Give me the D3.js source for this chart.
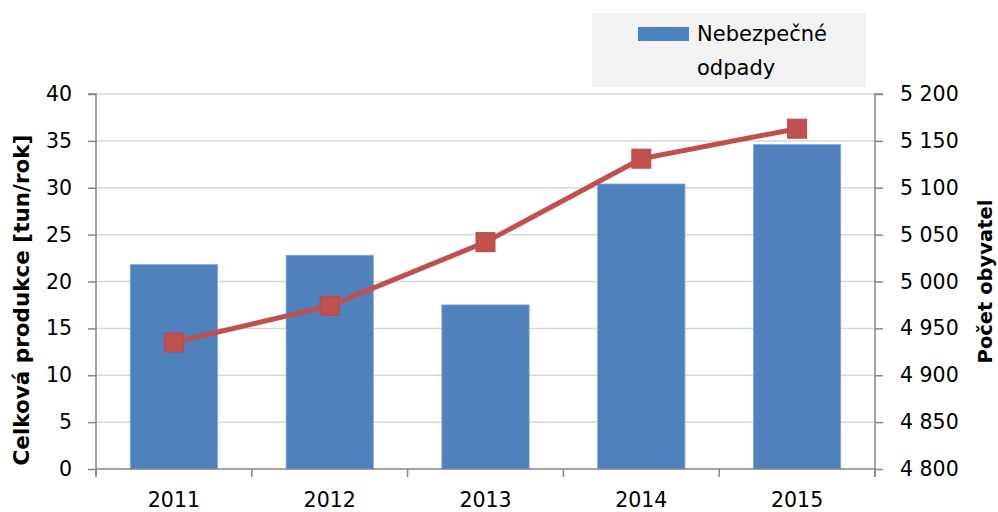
<!DOCTYPE html>
<html>
<head>
<meta charset="utf-8">
<script src="https://cdn.jsdelivr.net/npm/d3@7"></script>
<style>
  body { margin: 0; background: #fff; }
  text { font-family: "DejaVu Sans", sans-serif; fill: #000; }
</style>
</head>
<body>
<div id="chart"></div>
<script>
// Data
const years = ["2011", "2012", "2013", "2014", "2015"];
const waste = [21.8, 22.8, 17.5, 30.4, 34.6];          // tun/rok (bars, left axis)
const population = [4935, 4974, 5042, 5131, 5163];     // obyvatel (line, right axis)
const leftTicks = [0, 5, 10, 15, 20, 25, 30, 35, 40];
const rightTicks = [4800, 4850, 4900, 4950, 5000, 5050, 5100, 5150, 5200];

const W = 998, H = 512;
const plot = {left: 96, right: 875, top: 94, bottom: 469};
const font = "'DejaVu Sans', sans-serif";

const svg = d3.select("#chart").append("svg")
    .attr("width", W).attr("height", H);

const x = d3.scaleBand().domain(years).range([plot.left, plot.right]).paddingInner(0.44).paddingOuter(0.22);
const band = d3.scaleBand().domain(years).range([plot.left, plot.right]);
const yL = d3.scaleLinear().domain([0, 40]).range([plot.bottom, plot.top]);
const yR = d3.scaleLinear().domain([4800, 5200]).range([plot.bottom, plot.top]);

const fmt = d => d3.format(",")(d).replace(",", " ");

// Gridlines
svg.append("g").selectAll("line")
    .data(leftTicks.slice(1))
    .enter().append("line")
    .attr("x1", plot.left).attr("x2", plot.right)
    .attr("y1", d => yL(d)).attr("y2", d => yL(d))
    .attr("stroke", "#d9d9d9").attr("stroke-width", 1.5);

// Bars
svg.append("g").selectAll("rect")
    .data(years)
    .enter().append("rect")
    .attr("x", d => x(d))
    .attr("width", x.bandwidth())
    .attr("y", (d, i) => yL(waste[i]))
    .attr("height", (d, i) => yL(0) - yL(waste[i]))
    .attr("fill", "#4f81bd")
    .attr("stroke", "#7ea6d8").attr("stroke-width", 0.8);

// Axes
const axisColor = "#868686";
const leftAxis = svg.append("g")
    .attr("transform", `translate(${plot.left},0)`)
    .call(d3.axisLeft(yL).tickValues(leftTicks).tickSize(8).tickPadding(16));
const rightAxis = svg.append("g")
    .attr("transform", `translate(${plot.right},0)`)
    .call(d3.axisRight(yR).tickValues(rightTicks).tickFormat(fmt).tickSize(8).tickPadding(17));
const bottomAxis = svg.append("g")
    .attr("transform", `translate(0,${plot.bottom})`)
    .call(d3.axisBottom(band).tickSize(0).tickPadding(23));

// category boundary ticks
svg.append("g").selectAll("line")
    .data(d3.range(years.length + 1))
    .enter().append("line")
    .attr("x1", i => plot.left + i * band.step()).attr("x2", i => plot.left + i * band.step())
    .attr("y1", plot.bottom).attr("y2", plot.bottom + 8)
    .attr("stroke", axisColor).attr("stroke-width", 1.5);

[leftAxis, rightAxis, bottomAxis].forEach(g => {
    g.select(".domain").attr("stroke", axisColor).attr("stroke-width", 1.5);
    g.selectAll(".tick line").attr("stroke", axisColor).attr("stroke-width", 1.5);
    g.selectAll(".tick text").style("font-size", "20.5px").attr("fill", "#000")
        .style("font-family", font);
});
bottomAxis.select(".domain").attr("d", `M${plot.left},0H${plot.right}`);
leftAxis.select(".domain").attr("d", `M-8,${plot.top}H0V${plot.bottom + 8}`);
rightAxis.select(".domain").attr("d", `M8,${plot.top}H0V${plot.bottom + 8}`);

// Line series
const line = d3.line()
    .x((d, i) => band(years[i]) + band.bandwidth() / 2)
    .y(d => yR(d));
svg.append("path")
    .datum(population)
    .attr("d", line)
    .attr("fill", "none")
    .attr("stroke", "#c0504d")
    .attr("stroke-width", 5)
    .attr("stroke-linejoin", "round");

const ms = 19;
svg.append("g").selectAll("rect")
    .data(population)
    .enter().append("rect")
    .attr("x", (d, i) => band(years[i]) + band.bandwidth() / 2 - ms / 2)
    .attr("y", d => yR(d) - ms / 2)
    .attr("width", ms).attr("height", ms)
    .attr("fill", "#c0504d")
    .attr("stroke", "#b84a47").attr("stroke-width", 1);

// Axis titles
svg.append("text")
    .attr("transform", "translate(29,300) rotate(-90)")
    .attr("text-anchor", "middle")
    .style("font-size", "21.5px").style("font-weight", "bold")
    .text("Celková produkce [tun/rok]");
svg.append("text")
    .attr("transform", `translate(992,${(plot.top + plot.bottom) / 2}) rotate(-90)`)
    .attr("text-anchor", "middle")
    .style("font-size", "19.5px").style("font-weight", "bold")
    .text("Počet obyvatel");

// Legend
const legend = svg.append("g");
legend.append("rect")
    .attr("x", 592).attr("y", 13).attr("width", 274).attr("height", 74)
    .attr("fill", "#f2f2f2");
legend.append("rect")
    .attr("x", 638).attr("y", 27).attr("width", 51).attr("height", 14)
    .attr("fill", "#4f81bd");
legend.append("text")
    .attr("x", 697).attr("y", 41)
    .style("font-size", "21px")
    .text("Nebezpečné");
legend.append("text")
    .attr("x", 697).attr("y", 75)
    .style("font-size", "21px")
    .text("odpady");
</script>
</body>
</html>
